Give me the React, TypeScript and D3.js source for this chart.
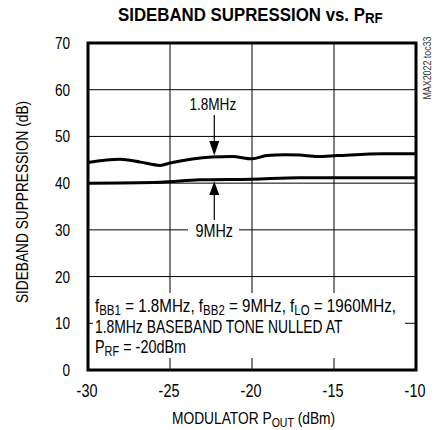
import React from "react";
import * as d3 from "d3";

const xTicks = [-30, -25, -20, -15, -10];
const yTicks = [0, 10, 20, 30, 40, 50, 60, 70];

// 1.8MHz baseband tone
const pout18 = [-30, -28.05, -26.8, -25.6, -25, -22.45, -21.2, -20, -19.1, -18, -17.1, -16, -14.8, -12, -10];
const supp18 = [44.4, 45.1, 44.5, 43.8, 44.3, 45.6, 45.7, 45.2, 45.9, 46.1, 46.0, 45.7, 45.9, 46.3, 46.3];

// 9MHz baseband tone
const pout9 = [-30, -25.6, -23.2, -20, -17.1, -10];
const supp9 = [40.0, 40.2, 40.7, 40.85, 41.15, 41.15];

const FONT = "'Liberation Sans', Arial, sans-serif";

// texte condensé : on écrase horizontalement
function NText({
  x,
  y,
  size,
  anchor = "start",
  sx = 0.8,
  rotate = 0,
  bold = false,
  children,
}: {
  x: number;
  y: number;
  size: number;
  anchor?: string;
  sx?: number;
  rotate?: number;
  bold?: boolean;
  children: React.ReactNode;
}) {
  return (
    <text
      transform={`translate(${x},${y}) rotate(${rotate}) scale(${sx},1)`}
      textAnchor={anchor}
      fontSize={size}
      fontWeight={bold ? "bold" : "normal"}
    >
      {children}
    </text>
  );
}

export default function App() {
  const width = 440;
  const height = 430;
  const margin = { top: 43, left: 88 };
  const innerWidth = 328;
  const innerHeight = 327;

  const xScale = d3.scaleLinear().domain([-30, -10]).range([0, innerWidth]);
  const yScale = d3.scaleLinear().domain([0, 70]).range([innerHeight, 0]);

  const line = d3
    .line<[number, number]>()
    .x((d) => xScale(d[0]))
    .y((d) => yScale(d[1]))
    .curve(d3.curveMonotoneX);

  const path18 = line(pout18.map((p, i) => [p, supp18[i]]));
  const path9 = line(pout9.map((p, i) => [p, supp9[i]]));

  const arrowX = xScale(-22.3);

  return (
    <svg
      width={width}
      height={height}
      style={{ position: "absolute", left: 0, top: 0, background: "#fff" }}
      fontFamily={FONT}
    >
      {/* titre */}
      <NText x={118} y={21} size={19} sx={0.887} bold>
        SIDEBAND SUPRESSION vs. P<tspan fontSize={15} dy={2}>RF</tspan>
      </NText>

      <g transform={`translate(${margin.left},${margin.top})`}>
        {/* grille */}
        <g stroke="#000" strokeWidth={1}>
          {xTicks.slice(1, -1).map((t) => (
            <line key={t} x1={xScale(t)} x2={xScale(t)} y1={0} y2={innerHeight} />
          ))}
          {yTicks.slice(1, -1).map((t) => (
            <line key={t} x1={0} x2={innerWidth} y1={yScale(t)} y2={yScale(t)} />
          ))}
        </g>

        {/* masques blancs derrière les étiquettes */}
        <rect x={5} y={250} width={312} height={65} fill="#fff" />
        <rect x={100} y={yScale(30) - 8} width={51} height={16} fill="#fff" />

        {/* courbes */}
        <path d={path18 ?? ""} fill="none" stroke="#000" strokeWidth={3} />
        <path d={path9 ?? ""} fill="none" stroke="#000" strokeWidth={3} />

        {/* flèche 1.8MHz */}
        <NText x={arrowX - 1.5} y={67} size={17} anchor="middle">
          1.8MHz
        </NText>
        <line x1={arrowX} x2={arrowX} y1={72} y2={100} stroke="#000" strokeWidth={1.2} />
        <path
          d={`M${arrowX - 5},${98} L${arrowX + 5},${98} L${arrowX},${yScale(45.6) - 1.5} Z`}
          fill="#000"
        />

        {/* flèche 9MHz */}
        <NText x={arrowX} y={yScale(30) + 7} size={18} anchor="middle">
          9MHz
        </NText>
        <line x1={arrowX} x2={arrowX} y1={150} y2={177} stroke="#000" strokeWidth={1.2} />
        <path
          d={`M${arrowX - 5},${152} L${arrowX + 5},${152} L${arrowX},${yScale(40.7) + 1.5} Z`}
          fill="#000"
        />

        {/* annotation */}
        <NText x={7} y={269} size={18.5} sx={0.82}>
          f<tspan fontSize={14} dy={3}>BB1</tspan>
          <tspan dy={-3}> = 1.8MHz, f</tspan>
          <tspan fontSize={14} dy={3}>BB2</tspan>
          <tspan dy={-3}> = 9MHz, f</tspan>
          <tspan fontSize={14} dy={3}>LO</tspan>
          <tspan dy={-3}> = 1960MHz,</tspan>
        </NText>
        <NText x={7} y={290} size={18.5} sx={0.75}>
          1.8MHz BASEBAND TONE NULLED AT
        </NText>
        <NText x={7} y={310} size={18.5} sx={0.78}>
          P<tspan fontSize={14} dy={3}>RF</tspan>
          <tspan dy={-3}> = -20dBm</tspan>
        </NText>

        {/* cadre */}
        <rect
          x={0}
          y={0}
          width={innerWidth}
          height={innerHeight}
          fill="none"
          stroke="#000"
          strokeWidth={3}
        />

        {/* graduations */}
        <g fill="#000">
          {xTicks.map((t) => (
            <NText key={t} x={xScale(t) - 1} y={innerHeight + 27} size={18} anchor="middle">
              {t}
            </NText>
          ))}
          {yTicks.map((t) => (
            <NText key={t} x={-18} y={yScale(t) + 6} size={17} anchor="end">
              {t}
            </NText>
          ))}
        </g>
      </g>

      {/* titres des axes */}
      <NText x={172} y={424} size={17} sx={0.81}>
        MODULATOR P<tspan fontSize={13} dy={3}>OUT</tspan>
        <tspan dy={-3}> (dBm)</tspan>
      </NText>
      <NText x={28} y={202} size={17} sx={0.805} rotate={-90} anchor="middle">
        SIDEBAND SUPPRESSION (dB)
      </NText>
      <text
        transform="translate(431,68) rotate(-90)"
        textAnchor="middle"
        fontSize={10}
        fill="#333"
        textLength={63}
        lengthAdjust="spacingAndGlyphs"
      >
        MAX2022 toc33
      </text>
    </svg>
  );
}
